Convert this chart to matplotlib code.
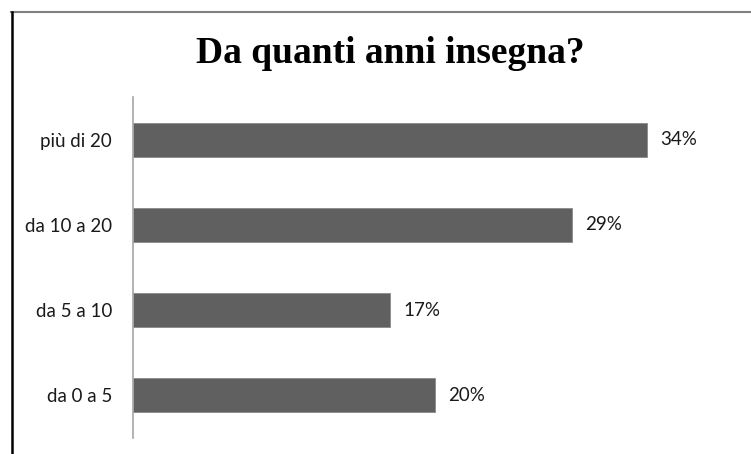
import matplotlib.pyplot as plt
from matplotlib.lines import Line2D

categories = ['da 0 a 5', 'da 5 a 10', 'da 10 a 20', 'più di 20']
values = [20, 17, 29, 34]
title = 'Da quanti anni insegna?'

W, H = 751, 454
fig = plt.figure(figsize=(W / 100, H / 100), dpi=100)
ax = fig.add_axes([133 / W, 16 / H, 605 / W, 341 / H])

ax.barh(range(len(categories)), values, height=0.4, color='#606060',
        edgecolor='#8a8a8a', linewidth=0.6)
ax.set_xlim(0, 40)
ax.set_ylim(-0.5, len(categories) - 0.5)
ax.set_yticks(range(len(categories)))
ax.set_yticklabels(categories, family='Lato', fontsize=13.5, color='#1a1a1a')
ax.tick_params(axis='y', length=0, pad=15)
ax.set_xticks([])
for s in ['top', 'right', 'bottom']:
    ax.spines[s].set_visible(False)
ax.spines['left'].set_color('#a6a6a6')
ax.spines['left'].set_linewidth(1.2)

for i, v in enumerate(values):
    ax.annotate(f'{v}%', (v, i), xytext=(13, 0), textcoords='offset pixels',
                va='center', ha='left', family='Lato', fontsize=13.5,
                color='#1a1a1a')

fig.text(390 / W, 1 - 63 / H, title, family='Liberation Serif',
         fontweight='bold', fontsize=27, ha='center', va='baseline')

# frame: gray top line, black left line
fig.add_artist(Line2D([11 / W, 1], [1 - 12 / H, 1 - 12 / H], color='#808080',
                      lw=1.5, transform=fig.transFigure))
fig.add_artist(Line2D([11.5 / W, 11.5 / W], [0, 1 - 12 / H], color='black',
                      lw=1.8, transform=fig.transFigure))

fig.savefig('out.png', dpi=100)
